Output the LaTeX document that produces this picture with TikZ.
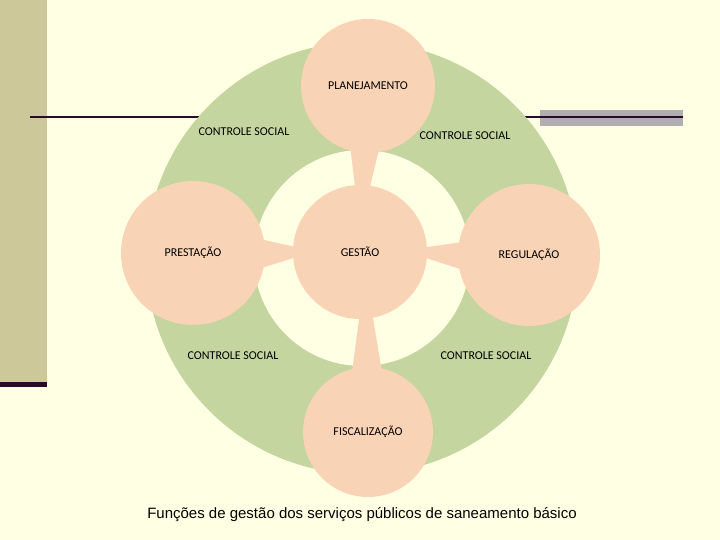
\documentclass[tikz,border=0pt]{standalone}
\usepackage{fontspec}
\setmainfont{Carlito}
\newfontfamily\capfont{Liberation Sans}
\definecolor{bg}{HTML}{FFFFE3}
\definecolor{bar}{HTML}{CCC899}
\definecolor{ring}{HTML}{C4D59F}
\definecolor{pk}{HTML}{F9D3B6}
\definecolor{dk}{HTML}{2A0A2A}
\definecolor{gr}{HTML}{B0AEB0}
\begin{document}
\begin{tikzpicture}[x=1pt,y=-1pt,
  circ/.style={circle,fill=pk,inner sep=0pt},
  lbl/.style={font=\fontsize{12}{14}\selectfont,text=black}]
\useasboundingbox (0,0) rectangle (720,540);
\fill[bg] (0,0) rectangle (720,540);
\fill[bar] (0,0) rectangle (47,383);
\fill[dk] (0,382) rectangle (47,387);
\fill[gr] (540,110) rectangle (683,126);
\draw[dk,line width=2.5pt] (30,117) -- (683,117);
\fill[ring] (362,258) circle (216);
\fill[bg] (362,258) circle (108);
\node[circ,minimum size=134pt] (top) at (368,86) {};
\node[circ,minimum size=144pt] (lft) at (193,253) {};
\node[circ,minimum size=142pt] (rgt) at (529,255) {};
\node[circ,minimum size=130pt] (bot) at (368,432) {};
\node[circ,minimum size=134pt] (ctr) at (360,252) {};
\fill[pk] (350,145) -- (380,145) -- (368,195) -- (356,195) -- cycle;
\fill[pk] (255,238) -- (255,270) -- (300,256) -- (300,248) -- cycle;
\fill[pk] (463,242) -- (463,270) -- (420,256) -- (420,248) -- cycle;
\fill[pk] (352,372) -- (382,372) -- (372,312) -- (360,312) -- cycle;
\node[lbl] at (top) {PLANEJAMENTO};
\node[lbl] at (lft) {PRESTAÇÃO};
\node[lbl] at (rgt) {REGULAÇÃO};
\node[lbl] at (bot) {FISCALIZAÇÃO};
\node[lbl] at (ctr) {GESTÃO};
\node[lbl] (c1) at (244,132) {CONTROLE SOCIAL};
\node[lbl] (c2) at (465,136) {CONTROLE SOCIAL};
\node[lbl] (c3) at (233,356) {CONTROLE SOCIAL};
\node[lbl] (c4) at (486,356) {CONTROLE SOCIAL};
\node[font=\capfont\fontsize{15}{17}\selectfont] (cap) at (362,515) {Funções de gestão dos serviços públicos de saneamento básico};
\end{tikzpicture}
\end{document}
